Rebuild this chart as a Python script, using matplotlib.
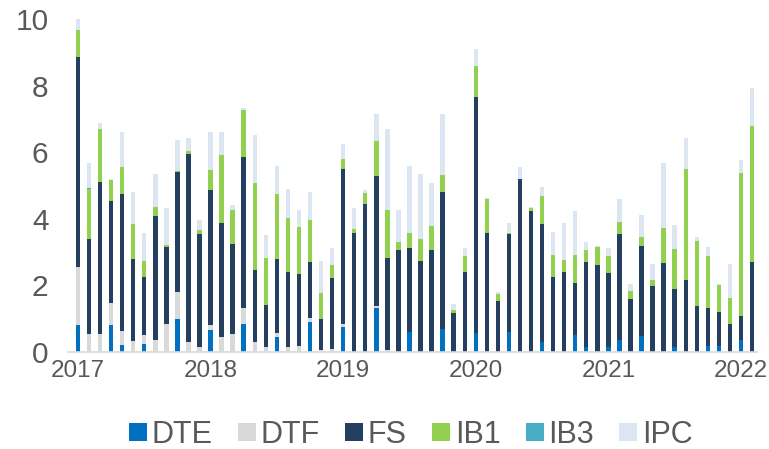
import numpy as np
import matplotlib
matplotlib.use("Agg")
import matplotlib.pyplot as plt
from matplotlib.lines import Line2D

plt.rcParams['font.family'] = ['Liberation Sans', 'DejaVu Sans']

## monthly values, Jan 2017 .. Feb 2022
years = ['2017', '2018', '2019', '2020', '2021', '2022']

DTE = [0.81, 0, 0, 0.81, 0.21, 0, 0.24, 0, 0, 0.98, 0, 0,
       0.66, 0, 0, 0.83, 0, 0, 0.46, 0, 0, 0.90, 0, 0,
       0.76, 0, 0, 1.32, 0, 0, 0.61, 0, 0, 0.70, 0, 0,
       0.56, 0, 0, 0.60, 0, 0, 0.30, 0, 0, 0.50, 0.14, 0,
       0.16, 0.35, 0, 0.47, 0, 0, 0.15, 0, 0, 0.17, 0.17, 0,
       0.35, 0]
DTF = [1.75, 0.53, 0.53, 0.67, 0.42, 0.34, 0.27, 0.35, 0.85, 0.82, 0.31, 0.16,
       0.15, 0.46, 0.53, 0.49, 0.29, 0.16, 0.11, 0.14, 0.18, 0.12, 0.06, 0.10,
       0.07, 0, 0, 0.06, 0.06, 0, 0, 0, 0, 0, 0, 0,
       0, 0, 0, 0, 0, 0, 0, 0, 0, 0, 0, 0,
       0, 0, 0, 0, 0, 0, 0, 0, 0, 0, 0, 0,
       0, 0]
FS = [6.31, 2.85, 4.58, 3.05, 4.12, 2.46, 1.73, 3.72, 2.31, 3.61, 5.65, 3.37,
      4.05, 3.40, 2.72, 4.54, 2.17, 1.25, 2.23, 2.25, 2.17, 1.69, 0.93, 2.11,
      4.67, 3.58, 4.45, 3.92, 2.77, 3.07, 2.52, 2.74, 3.07, 4.11, 1.18, 2.39,
      7.11, 3.58, 1.54, 2.93, 5.20, 4.24, 3.53, 2.26, 2.41, 1.57, 2.56, 2.61,
      2.21, 3.19, 1.60, 2.72, 1.99, 2.66, 1.75, 2.16, 1.38, 1.16, 1.04, 0.85,
      0.74, 2.70]
IB1 = [0.80, 1.52, 1.58, 0.63, 0.81, 1.04, 0.49, 0.29, 0.04, 0.02, 0.07, 0.13,
       0.61, 2.06, 1.01, 1.41, 2.62, 1.40, 1.94, 1.63, 1.40, 1.25, 0.79, 0.39,
       0.30, 0.10, 0.33, 1.04, 1.43, 0.23, 0.45, 0.66, 0.71, 0.51, 0.08, 0.49,
       0.91, 1.01, 0.20, 0.03, 0, 0.08, 0.86, 0.65, 0.35, 0.84, 0.37, 0.54,
       0.51, 0.35, 0.23, 0.26, 0.16, 1.07, 1.19, 3.34, 1.95, 1.54, 0.80, 0.77,
       4.28, 4.09]
IB3 = [0, 0.03, 0, 0, 0, 0, 0, 0, 0, 0, 0, 0,
       0, 0, 0, 0, 0, 0, 0, 0, 0, 0, 0, 0,
       0, 0, 0, 0, 0, 0, 0, 0, 0, 0, 0, 0,
       0, 0, 0, 0, 0, 0, 0, 0, 0, 0, 0, 0,
       0, 0, 0, 0, 0, 0, 0, 0, 0, 0, 0, 0,
       0, 0]
IPC = [0.33, 0.74, 0.19, 0.04, 1.04, 0.97, 0.85, 0.99, 1.11, 0.95, 0.39, 0.30,
       1.13, 0.68, 0.16, 0.05, 1.44, 0.71, 0.85, 0.87, 0.51, 0.84, 0.96, 0.51,
       0.45, 0.64, 0.08, 0.81, 2.44, 0.96, 2.01, 1.95, 1.30, 1.82, 0.18, 0.25,
       0.52, 0.02, 0.06, 0.30, 0.36, 0.02, 0.27, 0.70, 1.10, 1.32, 0.22, 0.02,
       0.24, 0.69, 0.20, 0.65, 0.48, 1.95, 0.71, 0.94, 0.12, 0.28, 0.03, 1.02,
       0.39, 1.14]

names  = ['DTE', 'DTF', 'FS', 'IB1', 'IB3', 'IPC']
series = [DTE, DTF, FS, IB1, IB3, IPC]
colors = ['#0070C0', '#D9D9D9', '#243F60', '#92D050', '#4BACC6', '#DCE6F2']

txt_c = '#595959'
fig = plt.figure(figsize=(7.69, 4.49), dpi=100)
ax = fig.add_axes([68/769, 1-352/449, (757-68)/769, (352-19)/449])

x = np.arange(len(FS))
bottom = np.zeros(len(x))
for name, vals, c in zip(names, series, colors):
    v = np.array(vals)
    ax.bar(x, v, width=0.4, bottom=bottom, color=c, linewidth=0)
    bottom += v

ax.set_ylim(0, 10)
ax.set_xlim(-0.9, 61.45)
ax.set_yticks([0, 2, 4, 6, 8, 10])
ax.set_xticks(np.arange(len(years))*12)
ax.set_xticklabels(years)
ax.tick_params(axis='y', length=0, labelsize=21.5, labelcolor=txt_c, pad=14)
ax.tick_params(axis='x', length=0, labelsize=17.5, labelcolor=txt_c, pad=6)
for s in ['top', 'right', 'left']:
    ax.spines[s].set_visible(False)
ax.spines['bottom'].set_color('#D9D9D9')
ax.spines['bottom'].set_linewidth(1.2)

handles = [Line2D([], [], marker='s', linestyle='', markersize=12.5,
                  markerfacecolor=c, markeredgewidth=0) for c in colors]
fig.legend(handles, names, loc='center', bbox_to_anchor=(0.532, 0.031),
           ncol=6, frameon=False, fontsize=22, labelcolor=txt_c,
           handletextpad=0.05, columnspacing=0.72, handlelength=0.8)

fig.savefig('out.png', dpi=100)
